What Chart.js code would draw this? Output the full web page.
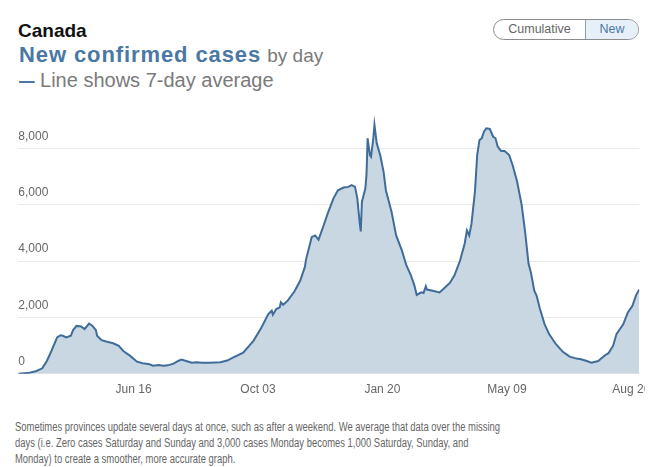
<!DOCTYPE html>
<html>
<head>
<meta charset="utf-8">
<script src="https://cdn.jsdelivr.net/npm/chart.js@4"></script>
<style>
  html, body { margin: 0; padding: 0; background: #fff; }
  body { width: 660px; height: 467px; position: relative; overflow: hidden; font-family: "Liberation Sans", Arial, sans-serif; }
  .abs { position: absolute; white-space: nowrap; }
  #place { left: 18px; top: 21px; font-size: 19px; line-height: 19px; font-weight: bold; color: #111; }
  #title { left: 19px; top: 44px; font-size: 22px; line-height: 22px; color: #7a7a7a; }
  #title b { color: #4a78a4; letter-spacing: 0.9px; }
  #title span { font-size: 19px; }
  #sub { left: 19px; top: 70px; font-size: 20px; line-height: 20px; color: #7a7a7a; }
  #sub span { display: inline-block; color: #4a78a4; font-weight: bold; transform: scaleX(0.78); transform-origin: 0 0; margin-right: -4.5px; }
  #toggle { left: 493px; top: 19px; width: 144px; height: 19px; border: 1px solid #8c8c8c; border-radius: 11px; overflow: hidden; display: flex; font-size: 12.5px; line-height: 19px; }
  #toggle div { text-align: center; }
  #cum { width: 91px; color: #666; }
  #new { flex: 1; color: #4a78a4; background: #e7eff8; border-left: 1px solid #8a9fb3; }
  #wrap { left: 0; top: 100px; width: 645px; height: 310px; overflow: hidden; }
  #note { left: 15px; top: 420px; font-size: 12.5px; line-height: 15.8px; color: #666; transform: scaleX(0.755); transform-origin: 0 0; }
</style>
</head>
<body>
<div class="abs" id="place">Canada</div>
<div class="abs" id="title"><b>New confirmed cases</b> <span>by day</span></div>
<div class="abs" id="sub"><span>—</span> Line shows 7-day average</div>
<div class="abs" id="toggle"><div id="cum">Cumulative</div><div id="new">New</div></div>
<div class="abs" id="wrap"><canvas id="chart" width="680" height="310"></canvas></div>
<div class="abs" id="note">Sometimes provinces update several days at once, such as after a weekend. We average that data over the missing<br>days (i.e. Zero cases Saturday and Sunday and 3,000 cases Monday becomes 1,000 Saturday, Sunday, and<br>Monday) to create a smoother, more accurate graph.</div>
<script>
// days counted from the start of the series (early March 2020)
const DAYS = [0, 10, 16, 21, 25, 29, 34, 37, 39, 42, 46, 48, 51, 55, 58, 62, 65, 68, 69, 73,
  77, 83, 88, 92, 98, 104, 109, 115, 118, 123, 127, 131, 136, 140, 143, 147, 152, 156, 161, 168,
  177, 183, 188, 197, 206, 213, 219, 222, 223, 226, 229, 230, 232, 236, 242, 247, 251, 252, 257, 260,
  263, 267, 271, 276, 280, 285, 289, 292, 295, 297, 299, 300, 301, 304, 305, 306, 308, 309, 311, 312,
  314, 317, 320, 322, 327, 331, 336, 340, 344, 347, 349, 353, 355, 357, 358, 363, 369, 374, 378, 382,
  387, 391, 393, 395, 397, 400, 402, 404, 406, 408, 410, 413, 416, 418, 420, 423, 426, 430, 433, 437,
  441, 444, 447, 449, 452, 454, 457, 461, 465, 471, 477, 483, 489, 493, 498, 502, 508, 514, 517, 521,
  524, 530, 534, 538, 541, 544];

// 7-day average of new cases
const CASES = [0, 40, 100, 195, 455, 810, 1290, 1370, 1350, 1290, 1350, 1550, 1700, 1680, 1585, 1785, 1700, 1550, 1350, 1195,
  1145, 1085, 990, 810, 635, 430, 375, 340, 290, 315, 290, 300, 360, 455, 505, 455, 395, 410, 395, 395,
  410, 470, 575, 750, 1170, 1645, 2120, 2240, 2095, 2300, 2360, 2535, 2450, 2595, 2930, 3310, 3785, 4045, 4850, 4910,
  4760, 5210, 5685, 6220, 6515, 6610, 6635, 6695, 6635, 6220, 5385, 5055, 6100, 6575, 7050, 8360, 7765, 7705, 8360, 8835,
  8180, 7765, 7170, 6515, 5745, 4910, 4380, 3845, 3485, 3130, 2800, 2890, 2870, 3105, 2990, 2950, 2890, 3070, 3225, 3485,
  4020, 4615, 5090, 4910, 5330, 6455, 7765, 8300, 8360, 8600, 8715, 8690, 8415, 8360, 8060, 7905, 7905, 7765, 7410, 6815,
  5980, 5030, 3905, 3605, 2950, 2775, 2300, 1765, 1410, 1050, 780, 610, 540, 515, 455, 395, 455, 660, 730, 990,
  1410, 1765, 2180, 2415, 2775, 2990];

const TICK_DAYS = [101, 210, 319, 428, 537];
const TICK_LABELS = ["Jun 16", "Oct 03", "Jan 20", "May 09", "Aug 26"];
const Y_TICKS = [0, 2000, 4000, 6000, 8000];

const FONT = '"Liberation Sans", Arial, sans-serif';

new Chart(document.getElementById("chart"), {
  type: "line",
  data: {
    datasets: [{
      data: DAYS.map((d, i) => ({ x: d, y: CASES[i] })),
      borderColor: "#3f6c98",
      borderWidth: 2,
      backgroundColor: "#c9d7e3",
      fill: "origin",
      pointRadius: 0,
      tension: 0
    }]
  },
  options: {
    responsive: false,
    animation: false,
    layout: { padding: { left: 18.3, right: 40.7, top: 14.6, bottom: 3.8 } },
    plugins: { legend: { display: false }, tooltip: { enabled: false } },
    scales: {
      x: {
        type: "linear",
        min: 0,
        max: 544,
        afterBuildTicks: s => { s.ticks = TICK_DAYS.map(v => ({ value: v })); },
        grid: { display: false, drawTicks: false },
        border: { display: false },
        ticks: {
          padding: 9,
          color: "#666",
          maxRotation: 0,
          autoSkip: false,
          font: { size: 12, family: FONT },
          callback: v => TICK_LABELS[TICK_DAYS.indexOf(v)]
        }
      },
      y: {
        min: 0,
        max: 9200,
        afterBuildTicks: s => { s.ticks = Y_TICKS.map(v => ({ value: v })); },
        grid: { color: "#e9e9e9", drawTicks: false },
        border: { display: false },
        ticks: {
          mirror: true,
          padding: 0,
          labelOffset: -12,
          color: "#666",
          font: { size: 12, family: FONT },
          callback: v => v.toLocaleString("en-US")
        }
      }
    }
  }
});
</script>
</body>
</html>
